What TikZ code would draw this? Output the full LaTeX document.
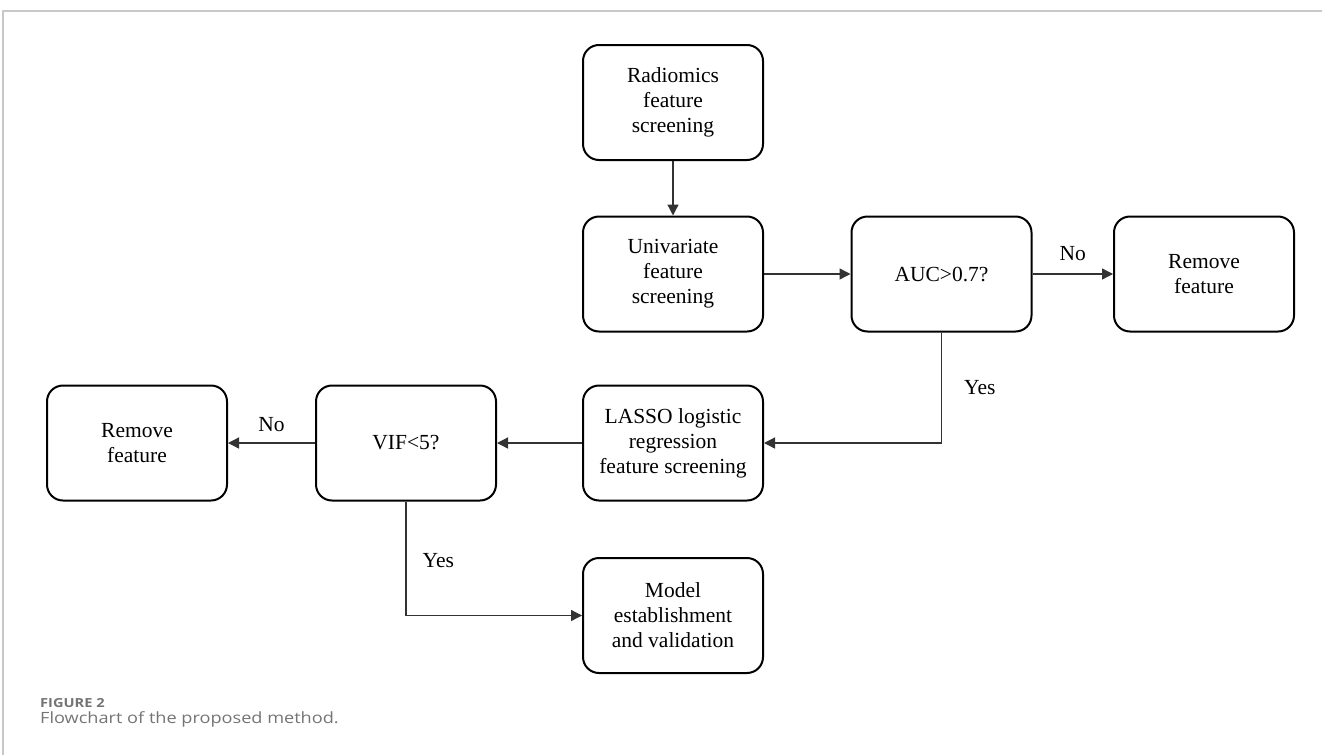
\documentclass[tikz,border=0pt]{standalone}
\usepackage{fontspec}
\setmainfont{Liberation Serif}
\newfontfamily\capfont[FakeStretch=1.17]{Open Sans}
\usepackage{xcolor}
\usepackage{tikz}
\usetikzlibrary{arrows.meta, calc}
\definecolor{capgrey}{HTML}{747474}
\definecolor{framegrey}{HTML}{C8C8C8}
\definecolor{linkgrey}{HTML}{333333}
\tikzset{
    stepbox/.style={draw=black, line width=2pt, rounded corners=16pt, minimum width=180pt, minimum height=115pt, align=center, inner sep=0pt, font=\fontsize{21.5}{25}\selectfont},
    link/.style={draw=linkgrey, line width=1.3pt, -{Triangle[length=11pt, width=11pt]}},
    answer/.style={font=\fontsize{21.5}{25}\selectfont, inner sep=0pt}
}

\begin{document}
\begin{tikzpicture}[x=1pt, y=-1pt]
    \useasboundingbox (0,0) rectangle (1322,755);
    % Frame
    \draw[framegrey, line width=1.5pt] (1322,11) -- (3,11) -- (3,755);
    % Boxes
    \node[stepbox] (rad) at (673,102.5) {Radiomics\\feature\\screening};
    \node[stepbox] (uni) at (673,274) {Univariate\\feature\\screening};
    \node[stepbox] (auc) at (941.5,274) {AUC>0.7?};
    \node[stepbox] (remR) at (1204,274) {Remove\\feature};
    \node[stepbox] (lasso) at (673,443) {LASSO logistic\\regression\\feature screening};
    \node[stepbox] (vif) at (406,443) {VIF<5?};
    \node[stepbox] (remL) at (137,443) {Remove\\feature};
    \node[stepbox] (model) at (673,615.5) {Model\\establishment\\and validation};

    % Connectors
    \draw[link] (rad) -- (uni);
    \draw[link] (uni) -- (auc);
    \draw[link] (auc) -- node[answer, above=13pt] {No} (remR);
    \draw[link] (auc.south) |- node[answer, pos=0.25, right=22pt] {Yes} (lasso.east);
    \draw[link] (lasso) -- (vif);
    \draw[link] (vif) -- node[answer, above=11pt] {No} (remL);
    \draw[link] (vif.south) |- node[answer, pos=0.26, right=16pt] {Yes} (model.west);

    % Caption
    \node[anchor=base west, inner sep=0pt, text=capgrey, font=\capfont\bfseries\fontsize{12.5}{15}\selectfont] (figno) at (40,707) {FIGURE 2};
    \node[anchor=base west, inner sep=0pt, text=capgrey, font=\capfont\fontsize{15.5}{19}\selectfont] (figcap) at (40,723) {Flowchart of the proposed method.};
\end{tikzpicture}
\end{document}
